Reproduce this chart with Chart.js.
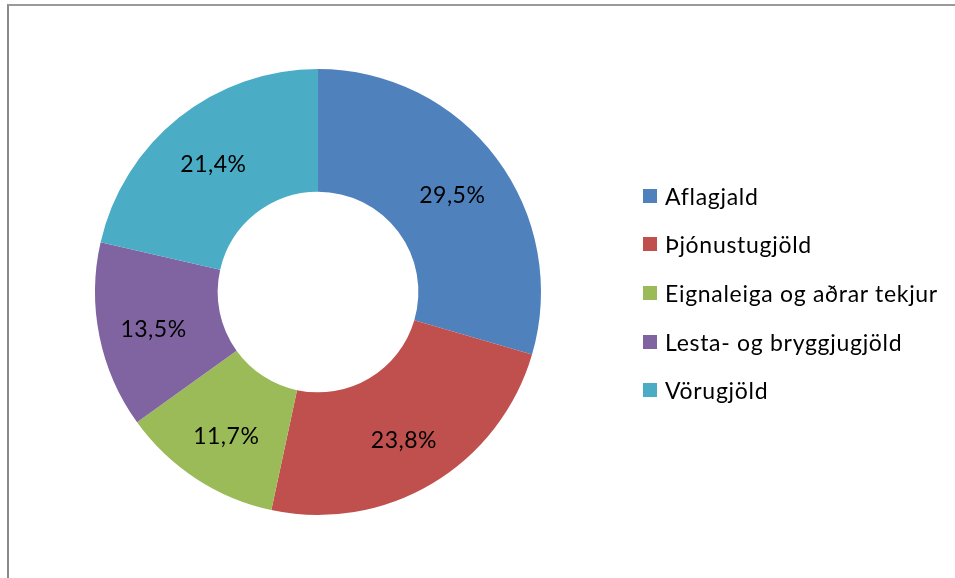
<!DOCTYPE html>
<html>
<head>
<meta charset="utf-8">
<script src="https://cdn.jsdelivr.net/npm/chart.js@4"></script>
<style>
  html, body { margin: 0; padding: 0; background: #fff; }
  body { width: 955px; height: 578px; position: relative; overflow: hidden; }
  #frame { position: absolute; left: 7px; top: 4px; width: 960px; height: 600px;
           border-left: 2px solid #8a8a8a; border-top: 2px solid #9a9a9a; box-sizing: border-box; }
  #wrap { position: absolute; left: 0; top: 0; width: 955px; height: 578px; }
  #legend { position: absolute; left: 643px; top: 0; font-family: Lato, sans-serif; font-size: 23px; color: #000; }
  .item { position: absolute; left: 0; white-space: nowrap; height: 20px; }
  .box { position: absolute; left: 0; width: 14px; height: 14px; }
  .lbl { position: absolute; left: 22px; line-height: 24px; top: -12px; letter-spacing: 0.7px; }
</style>
</head>
<body>
<div id="frame"></div>
<div id="wrap"><canvas id="c" width="955" height="578"></canvas></div>
<div id="legend"></div>
<script>
const categories = ["Aflagjald", "Þjónustugjöld", "Eignaleiga og aðrar tekjur", "Lesta- og bryggjugjöld", "Vörugjöld"];
const shares = [29.5, 23.8, 11.7, 13.5, 21.4];
const colors = ["#4F81BD", "#C0504D", "#9BBB59", "#8064A2", "#4BACC6"];

const legendRowsY = [196, 244, 293, 342, 390];

const legend = document.getElementById('legend');
categories.forEach((name, i) => {
  const it = document.createElement('div');
  it.className = 'item';
  it.style.top = legendRowsY[i] + 'px';
  const b = document.createElement('div');
  b.className = 'box';
  b.style.background = colors[i];
  b.style.top = '-7px';
  const t = document.createElement('span');
  t.className = 'lbl';
  t.textContent = name;
  it.appendChild(b); it.appendChild(t);
  legend.appendChild(it);
});

const labelPlugin = {
  id: 'sliceLabels',
  afterDatasetsDraw(chart) {
    const ctx = chart.ctx;
    const meta = chart.getDatasetMeta(0);
    ctx.save();
    ctx.font = '23px Lato, sans-serif';
    ctx.letterSpacing = '0.5px';
    ctx.fillStyle = '#000';
    ctx.textAlign = 'center';
    ctx.textBaseline = 'middle';
    meta.data.forEach((arc, i) => {
      const pr = arc.getProps(['x', 'y', 'startAngle', 'endAngle', 'innerRadius', 'outerRadius'], true);
      const a = (pr.startAngle + pr.endAngle) / 2;
      const r = pr.innerRadius + 0.55 * (pr.outerRadius - pr.innerRadius);
      const txt = shares[i].toFixed(1).replace('.', ',') + '%';
      ctx.fillText(txt, pr.x + Math.cos(a) * r, pr.y + Math.sin(a) * r + 4);
    });
    ctx.restore();
  }
};

new Chart(document.getElementById('c'), {
  type: 'doughnut',
  data: {
    labels: categories,
    datasets: [{
      data: shares,
      backgroundColor: colors,
      borderWidth: 0
    }]
  },
  options: {
    responsive: false,
    animation: false,
    cutout: '45%',
    layout: { padding: { left: 95, right: 414, top: 69, bottom: 63 } },
    plugins: { legend: { display: false }, tooltip: { enabled: false } }
  },
  plugins: [labelPlugin]
});
</script>
</body>
</html>
